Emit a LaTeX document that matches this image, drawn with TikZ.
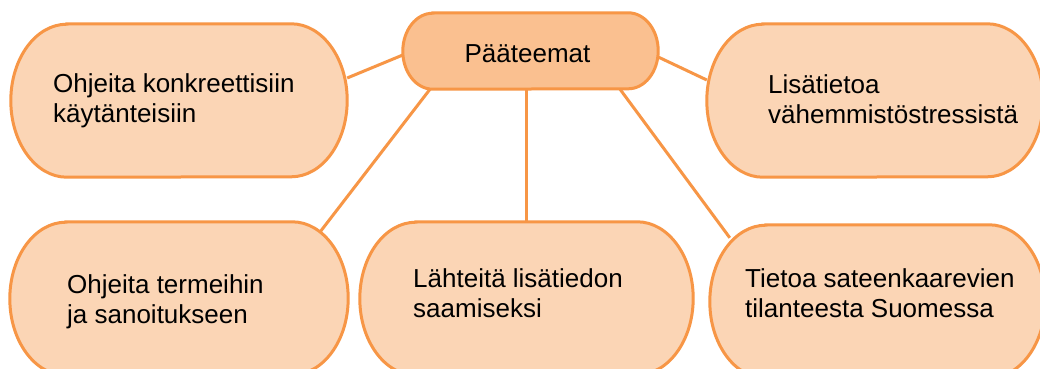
\documentclass[tikz,border=0pt]{standalone}
\usepackage{fontspec}
\setmainfont{Liberation Sans}
\definecolor{orline}{HTML}{F79646}
\definecolor{boxfill}{HTML}{FBD5B5}
\definecolor{midfill}{HTML}{FAC090}
\tikzset{
  pillline/.style={draw=orline, line width=3pt},
  conn/.style={draw=orline, line width=3pt},
  lbl/.style={anchor=base west, align=left, inner sep=0pt, font=\fontsize{26}{30}\selectfont},
}
\newcommand\pill[7]{%
  \node[minimum width=#4pt, minimum height=#5pt, inner sep=0pt] (#1) at (#2,#3) {};
  \path[pillline, fill=#7] ([xshift=#6pt]#1.north west) -- ([xshift=-#6pt]#1.north east)
    arc[start angle=90, end angle=-90, x radius=#6pt, y radius=#5pt/2]
    -- ([xshift=#6pt]#1.south west)
    arc[start angle=270, end angle=90, x radius=#6pt, y radius=#5pt/2] -- cycle;}
\begin{document}
\begin{tikzpicture}[x=1pt,y=1pt]
\useasboundingbox (0,0) rectangle (1040,368);
\clip (0,0) rectangle (1040,368);
\fill[white] (0,0) rectangle (1040,368);
% boxes
\pill{c}{530.5}{317}{255}{76}{30}{midfill}
\pill{tl}{179}{267.5}{336}{153}{56}{boxfill}
\pill{tr}{875}{267.5}{336}{153}{56}{boxfill}
\pill{bl}{179}{69.5}{338}{153}{56}{boxfill}
\pill{bm}{526.5}{69.5}{333}{153}{56}{boxfill}
\pill{br}{877.5}{66.5}{335}{153}{56}{boxfill}
% connectors
\draw[conn] ([yshift=22.5pt]tl.east) -- ([yshift=-4pt]c.west);
\draw[conn] ([yshift=-6pt]c.east) -- ([yshift=20.5pt]tr.west);
\draw[conn] ([xshift=-100.5pt]c.south) -- ([xshift=-28pt,yshift=-10pt]bl.north east);
\draw[conn] (bm.north |- c.south) -- (bm.north);
\draw[conn] ([xshift=89.5pt]c.south) -- ([xshift=20pt,yshift=-13pt]br.north west);
% labels
\node[anchor=base, inner sep=0pt, font=\fontsize{26}{30}\selectfont] (ct) at (527.5,306) {Pääteemat};
\node[lbl] (tlt) at (53,246) {Ohjeita konkreettisiin\\käytänteisiin};
\node[lbl] (trt) at (768,245) {Lisätietoa\\vähemmistöstressistä};
\node[lbl] (blt) at (67,45) {Ohjeita termeihin\\ja sanoitukseen};
\node[lbl] (bmt) at (413,51) {Lähteitä lisätiedon\\saamiseksi};
\node[lbl] (brt) at (745,51) {Tietoa sateenkaarevien\\tilanteesta Suomessa};
\end{tikzpicture}
\end{document}
